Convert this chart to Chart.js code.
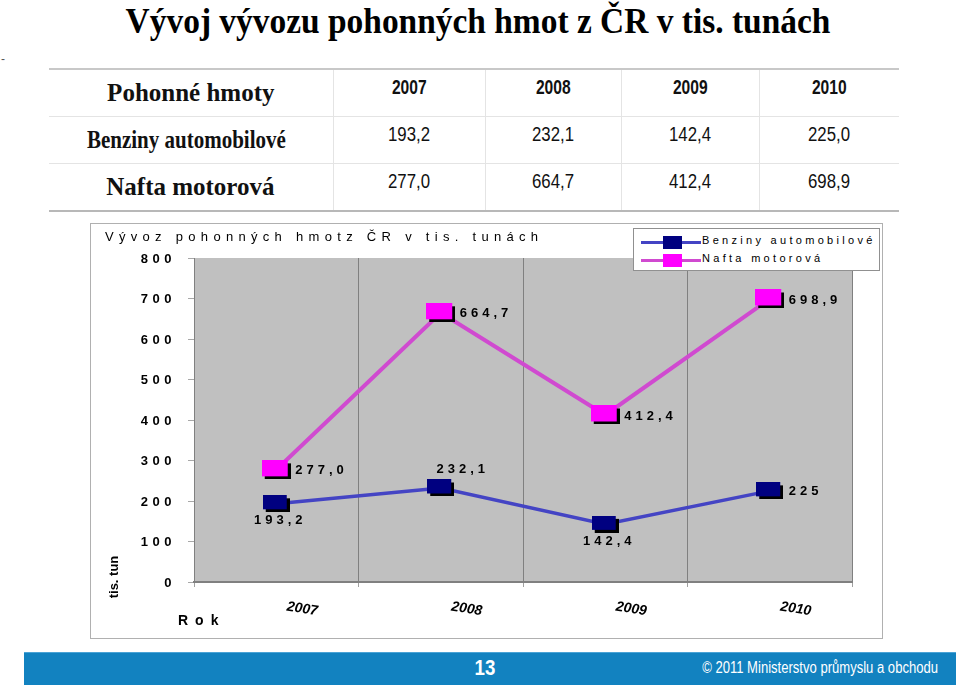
<!DOCTYPE html>
<html>
<head>
<meta charset="utf-8">
<script src="https://cdn.jsdelivr.net/npm/chart.js@4/dist/chart.umd.min.js"></script>
<style>
  html, body { margin: 0; padding: 0; background: #fff; }
  body { width: 960px; height: 686px; position: relative; overflow: hidden; font-family: "Liberation Sans", Arial, sans-serif; }
  #title { position: absolute; left: 0; width: 956px; top: 2px; text-align: center; font-family: "Liberation Serif", "Times New Roman", serif; font-weight: bold; font-size: 35px; line-height: 40px; color: #000; }
  #title span { display: inline-block; transform: scaleX(0.955); transform-origin: center; white-space: nowrap; }
  #dash { position: absolute; left: 1px; top: 52px; font-size: 12px; color: #555; }
  #tbl { position: absolute; left: 49px; top: 68px; width: 850px; table-layout: fixed; border-collapse: collapse; border-top: 2px solid #c8c8c8; border-bottom: 2px solid #b8b8b8; }
  #tbl td { height: 46px; padding: 0; text-align: center; border-left: 1px solid #e4e4e4; border-top: 1px solid #e4e4e4; color: #111; position: relative; overflow: visible; }
  #tbl tr.hdr td { border-top: none; }
  #tbl td .num { display: inline-block; position: relative; top: -6px; font-family: "Liberation Sans", Arial, sans-serif; font-size: 20px; transform: scaleX(0.84); white-space: nowrap; }
  #tbl tr.hdr td .num { font-weight: bold; transform: scaleX(0.78); }
  #tbl td:first-child { border-left: none; text-align: right; padding-right: 58px; }
  #tbl td:first-child span { display: inline-block; font-family: "Liberation Serif", "Times New Roman", serif; font-weight: bold; font-size: 25px; transform-origin: right center; white-space: nowrap; }
  #box { position: absolute; left: 90px; top: 223px; width: 791px; height: 414px; border: 1px solid #b0b0b0; }
  #chart { position: absolute; left: 0; top: 0; }
  #ctitle { position: absolute; left: 14px; top: 5px; font-size: 13px; letter-spacing: 5.3px; color: #000; white-space: nowrap; }
  #legend { position: absolute; left: 542px; top: 4px; width: 245px; height: 41px; border: 1px solid #909090; background: #fff; }
  .li { position: absolute; left: 7px; height: 14px; width: 240px; }
  .li .ln { position: absolute; left: 0; top: 6px; width: 60px; height: 3px; }
  .li .mk { position: absolute; left: 22px; top: 1px; width: 19px; height: 13px; }
  .li .tx { position: absolute; left: 61px; top: -1px; font-size: 11px; letter-spacing: 3.3px; white-space: nowrap; color: #000; }
  #footer { position: absolute; left: 24px; top: 652px; width: 932px; height: 32px; background: #1282c0; border-top: 1px solid #4aa3d6; }
  #pg { position: absolute; left: 426px; width: 70px; top: 2px; text-align: center; color: #fff; font-family: "Liberation Sans", Arial, sans-serif; font-weight: bold; font-size: 22px; transform: scaleX(0.85); }
  #copy { position: absolute; right: 18px; top: 6px; color: #fff; font-family: "Liberation Sans", Arial, sans-serif; font-size: 16px; white-space: nowrap; transform: scaleX(0.816); transform-origin: right center; }
</style>
</head>
<body>
<div id="title"><span>Vývoj vývozu pohonných hmot z ČR v tis. tunách</span></div>
<div id="dash">-</div>
<table id="tbl"><colgroup><col style="width:284px"><col style="width:152px"><col style="width:136px"><col style="width:138px"><col style="width:140px"></colgroup></table>
<div id="box">
  <canvas id="chart" width="791" height="414"></canvas>
  <div id="ctitle">Vývoz pohonných hmotz ČR v tis. tunách</div>
  <div id="legend"></div>
</div>
<div id="footer"><div id="pg">13</div><div id="copy">© 2011 Ministerstvo průmyslu a obchodu</div></div>
<script>
// ---- data ----
const years = ['2007', '2008', '2009', '2010'];
const seriesNames = ['Benziny automobilové', 'Nafta motorová'];
const benziny = [193.2, 232.1, 142.4, 225.0];
const nafta = [277.0, 664.7, 412.4, 698.9];
const benzinyLabels = ['193,2', '232,1', '142,4', '225'];
const naftaLabels = ['277,0', '664,7', '412,4', '698,9'];
const yTicks = [0, 100, 200, 300, 400, 500, 600, 700, 800];
const tableHeader = 'Pohonné hmoty';
const yTitle = 'tis. tun';
const xTitle = 'Rok';

// ---- table ----
const fmt = v => v.toFixed(1).replace('.', ',');
const tbl = document.getElementById('tbl');
const rowScale = [1.0, 0.84, 1.0];
function addRow(cells, r) {
  const tr = document.createElement('tr');
  if (r === 0) tr.className = 'hdr';
  cells.forEach((c, i) => {
    const td = document.createElement('td');
    const s = document.createElement('span');
    s.textContent = c;
    if (i === 0) s.style.transform = 'scaleX(' + rowScale[r] + ')';
    else s.className = 'num';
    td.appendChild(s);
    tr.appendChild(td);
  });
  tbl.appendChild(tr);
}
addRow([tableHeader].concat(years), 0);
addRow([seriesNames[0]].concat(benziny.map(fmt)), 1);
addRow([seriesNames[1]].concat(nafta.map(fmt)), 2);

// ---- styles ----
const blueLine = '#4444c4', blueMark = '#000080';
const pinkLine = '#d04ad0', pinkMark = '#ff00ff';

function markerCanvas(fill, w, h) {
  const c = document.createElement('canvas');
  c.width = w + 3; c.height = h + 3;
  const g = c.getContext('2d');
  g.fillStyle = '#000';
  g.fillRect(3, 3, w, h);
  g.fillStyle = fill;
  g.fillRect(0, 0, w, h);
  return c;
}

// legend
const legend = document.getElementById('legend');
[[seriesNames[0], blueLine, blueMark], [seriesNames[1], pinkLine, pinkMark]].forEach((e, i) => {
  const d = document.createElement('div');
  d.className = 'li';
  d.style.top = (6 + i * 18) + 'px';
  d.innerHTML = '<div class="ln" style="background:' + e[1] + '"></div><div class="mk" style="background:' + e[2] + '"></div><div class="tx"></div>';
  d.querySelector('.tx').textContent = e[0];
  legend.appendChild(d);
});

const bgPlugin = {
  id: 'bg',
  beforeDraw(chart) {
    const a = chart.chartArea, ctx = chart.ctx;
    ctx.save();
    ctx.fillStyle = '#c0c0c0';
    ctx.fillRect(a.left, a.top, a.right - a.left, a.bottom - a.top);
    ctx.restore();
  }
};

const textPlugin = {
  id: 'texts',
  afterDraw(chart) {
    const ctx = chart.ctx, ys = chart.scales.y, xs = chart.scales.x, a = chart.chartArea;
    ctx.save();
    ctx.fillStyle = '#000';
    // y tick labels
    ctx.font = 'bold 13px "Liberation Sans", Arial, sans-serif';
    ctx.letterSpacing = '4.5px';
    ctx.textAlign = 'right';
    ctx.textBaseline = 'middle';
    yTicks.forEach(v => {
      ctx.fillText(String(v), a.left - 18, ys.getPixelForValue(v) + 1);
    });
    // x labels rotated
    ctx.letterSpacing = '0px';
    ctx.font = 'italic bold 14px "Liberation Sans", Arial, sans-serif';
    ctx.textAlign = 'center';
    years.forEach((y, i) => {
      const px = xs.getPixelForValue(i);
      ctx.save();
      ctx.translate(px + 26, a.bottom + 27);
      ctx.rotate(9 * Math.PI / 180);
      ctx.fillText(y, 0, 0);
      ctx.restore();
    });
    // axis titles
    ctx.font = 'bold 14px "Liberation Sans", Arial, sans-serif';
    ctx.letterSpacing = '7px';
    ctx.textAlign = 'left';
    ctx.fillText(xTitle, 87, a.bottom + 39);
    ctx.letterSpacing = '0px';
    ctx.font = 'bold 13px "Liberation Sans", Arial, sans-serif';
    ctx.save();
    ctx.translate(23, a.bottom - 5);
    ctx.rotate(-Math.PI / 2);
    ctx.textAlign = 'center';
    ctx.fillText(yTitle, 0, 0);
    ctx.restore();
    // data labels
    ctx.font = 'bold 13px "Liberation Sans", Arial, sans-serif';
    ctx.letterSpacing = '4px';
    const place = [['below', 'above', 'below', 'right'], ['right', 'right', 'right', 'right']];
    const texts = [benzinyLabels, naftaLabels];
    chart.data.datasets.forEach((ds, di) => {
      const meta = chart.getDatasetMeta(di);
      meta.data.forEach((pt, i) => {
        const p = place[di][i];
        const t = texts[di][i];
        if (p === 'right') { ctx.textAlign = 'left'; ctx.fillText(t, pt.x + 19, pt.y + 1); }
        else if (p === 'below') { ctx.textAlign = 'center'; ctx.fillText(t, pt.x + 4, pt.y + 17); }
        else { ctx.textAlign = 'center'; ctx.fillText(t, pt.x + 22, pt.y - 19); }
      });
    });
    ctx.restore();
  }
};

new Chart(document.getElementById('chart'), {
  type: 'line',
  data: {
    labels: years,
    datasets: [
      { label: seriesNames[0], data: benziny, borderColor: blueLine, borderWidth: 3.5,
        pointStyle: markerCanvas(blueMark, 24, 14), pointRadius: 10, fill: false, tension: 0 },
      { label: seriesNames[1], data: nafta, borderColor: pinkLine, borderWidth: 4,
        pointStyle: markerCanvas(pinkMark, 26, 16), pointRadius: 10, fill: false, tension: 0 }
    ]
  },
  options: {
    responsive: false,
    animation: false,
    devicePixelRatio: 1,
    layout: { padding: { left: 97, right: 30, top: 34, bottom: 51 } },
    plugins: { legend: { display: false }, tooltip: { enabled: false }, title: { display: false } },
    scales: {
      x: {
        type: 'category', offset: true,
        grid: { offset: true, color: '#808080', lineWidth: 1, tickLength: 5, drawTicks: true, tickColor: '#a0a0a0' },
        border: { display: true, color: '#808080', width: 2 },
        ticks: { display: false }
      },
      y: {
        min: 0, max: 800,
        afterBuildTicks: s => { s.ticks = yTicks.map(v => ({ value: v })); },
        grid: { drawOnChartArea: false, drawTicks: true, tickLength: 6, color: '#a8a8a8' },
        border: { display: true, color: '#808080', width: 1 },
        ticks: { display: false }
      }
    }
  },
  plugins: [bgPlugin, textPlugin]
});
</script>
</body>
</html>
